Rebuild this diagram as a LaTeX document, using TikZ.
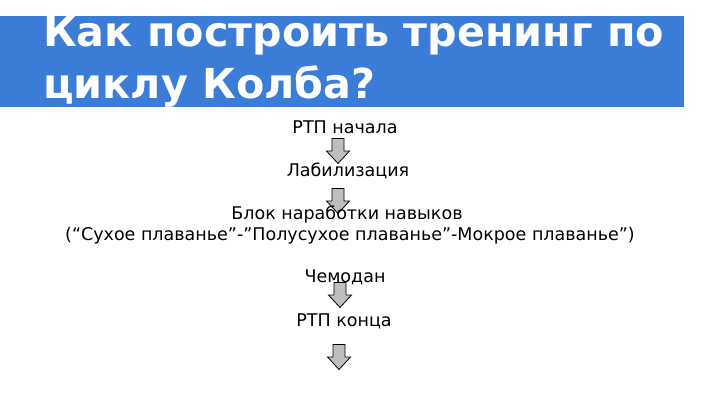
\documentclass[tikz,border=0pt]{standalone}
\usepackage{fontspec}
\setmainfont{DejaVu Sans}
\usepackage{xcolor}
\definecolor{bandblue}{RGB}{58, 124, 214}
\definecolor{arrowgray}{RGB}{190, 190, 190}

\begin{document}
\begin{tikzpicture}[x=1pt, y=-1pt,
            title/.style = {
                text=white,
                anchor=base west,
                inner sep=0pt,
                font=\bfseries\fontsize{41.3}{42}\selectfont,
                },
            step text/.style = {
                text=black,
                anchor=base,
                inner sep=0pt,
                font=\fontsize{17.5}{18}\selectfont,
                },
            down arrow/.pic = {
                \draw[black, thick, fill=arrowgray, line join=miter]
                    (-6,-12.5) -- (6,-12.5) -- (6,0) -- (11.5,0) -- (0,12.5)
                    -- (-11.5,0) -- (-6,0) -- cycle;
                }]
            \useasboundingbox (0,0) rectangle (720,405);
            \fill[bandblue] (0,16) rectangle (684,107);
            \node[title] (t1) at (43,46) {Как построить тренинг по};
            \node[title] (t2) at (43,98) {циклу Колба?};

            \node[step text] (start) at (345,133) {РТП начала};
            \pic (a1) at (338,151) {down arrow};
            \node[step text] (lab) at (348,176) {Лабилизация};
            \pic (a2) at (338,201) {down arrow};
            \node[step text] (blok) at (347,219) {Блок наработки навыков};
            \node[step text] (sub) at (350,240) {(“Сухое плаванье”-”Полусухое плаванье”-Мокрое плаванье”)};
            \node[step text] (chem) at (345,282) {Чемодан};
            \pic (a3) at (340,295) {down arrow};
            \node[step text] (finish) at (344,326) {РТП конца};
            \pic (a4) at (339,357) {down arrow};
        \end{tikzpicture}
\end{document}
